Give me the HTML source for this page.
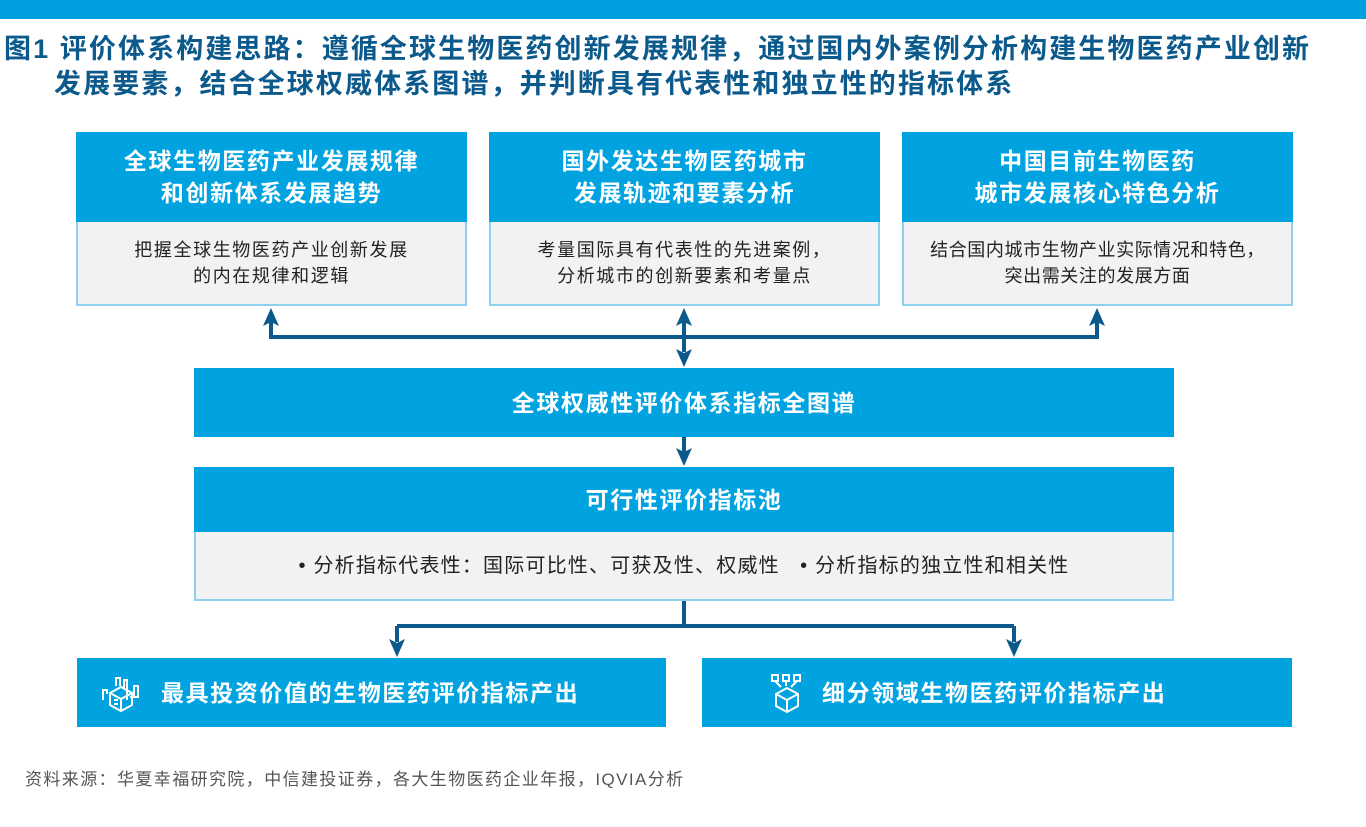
<!DOCTYPE html>
<html><head><meta charset="utf-8"><style>
*{margin:0;padding:0;box-sizing:border-box}
body{width:1366px;height:827px;background:#fff;position:relative;overflow:hidden;font-family:"Liberation Sans","Noto Sans CJK SC",sans-serif}
.bar{position:absolute;left:0;top:0;width:1366px;height:19px;background:#009fdf}
.title{position:absolute;left:4px;color:#0c5a8c;font-size:27px;font-weight:bold;white-space:nowrap;letter-spacing:2.1px}
.box{position:absolute;}
.hd{background:#00a3e0;color:#fff;font-weight:bold;font-size:23px;letter-spacing:1.6px;text-align:center;display:flex;align-items:center;justify-content:center;line-height:32px}
.bd{background:#f2f2f2;border:2px solid #8fd0ef;border-top:none;color:#222;font-size:18px;letter-spacing:1.6px;text-align:center;display:flex;align-items:center;justify-content:center;line-height:26px}
.src{position:absolute;left:25px;top:765px;font-size:17px;color:#555;letter-spacing:1.4px;white-space:nowrap}
</style></head><body>
<div class="bar"></div>
<div class="title" style="top:27px">图1 评价体系构建思路：遵循全球生物医药创新发展规律，通过国内外案例分析构建生物医药产业创新</div>
<div class="title" style="top:62px;left:54px">发展要素，结合全球权威体系图谱，并判断具有代表性和独立性的指标体系</div>

<div class="box" style="left:76px;top:132px;width:391px">
 <div class="hd" style="height:90px">全球生物医药产业发展规律<br>和创新体系发展趋势</div>
 <div class="bd" style="height:84px">把握全球生物医药产业创新发展<br>的内在规律和逻辑</div>
</div>
<div class="box" style="left:489px;top:132px;width:391px">
 <div class="hd" style="height:90px">国外发达生物医药城市<br>发展轨迹和要素分析</div>
 <div class="bd" style="height:84px">考量国际具有代表性的先进案例，<br>分析城市的创新要素和考量点</div>
</div>
<div class="box" style="left:902px;top:132px;width:391px">
 <div class="hd" style="height:90px">中国目前生物医药<br>城市发展核心特色分析</div>
 <div class="bd" style="height:84px;letter-spacing:0.6px">结合国内城市生物产业实际情况和特色，<br>突出需关注的发展方面</div>
</div>

<div class="box hd" style="left:194px;top:368px;width:980px;height:69px">全球权威性评价体系指标全图谱</div>
<div class="box" style="left:194px;top:467px;width:980px">
 <div class="hd" style="height:65px">可行性评价指标池</div>
 <div class="bd" style="height:69px;font-size:20px;letter-spacing:1.2px">• 分析指标代表性：国际可比性、可获及性、权威性&nbsp;&nbsp;&nbsp;• 分析指标的独立性和相关性</div>
</div>

<div class="box hd" style="left:77px;top:658px;width:589px;height:69px;justify-content:flex-start;padding-left:84px;font-size:23px">最具投资价值的生物医药评价指标产出</div>
<div class="box hd" style="left:702px;top:658px;width:590px;height:69px;justify-content:flex-start;padding-left:120px;font-size:23px">细分领域生物医药评价指标产出</div>

<svg width="1366" height="827" style="position:absolute;left:0;top:0">
 <g stroke="#0c5a8c" stroke-width="4" fill="none">
  <path d="M271 322 V337 H1097 V322"/>
  <path d="M684 322 V352"/>
  <path d="M684 437 V452"/>
  <path d="M684 601 V626 M397 626 H1014 M397 626 V642 M1014 626 V642"/>
 </g>
 <g fill="#0c5a8c">
  <path d="M271 308 L263 326 L271 322 L279 326Z"/>
  <path d="M684 308 L676 326 L684 322 L692 326Z"/>
  <path d="M1097 308 L1089 326 L1097 322 L1105 326Z"/>
  <path d="M684 367 L676 349 L684 353 L692 349Z"/>
  <path d="M684 466 L676 448 L684 452 L692 448Z"/>
  <path d="M397 657 L389 639 L397 643 L405 639Z"/>
  <path d="M1014 657 L1006 639 L1014 643 L1022 639Z"/>
 </g>
 <g stroke="#fff" stroke-width="2" fill="none">
  <path d="M110 693 L121 687 L132 693 L132 705 L121 711 L110 705Z M110 693 L121 699 L132 693 M121 699 V711"/>
  <path d="M114 700 h4 M114 704 h4"/>
  <path d="M103 700 V690 h4 v4 M116 686 V678 h4 v8 M124 688 V680 h3 v20 M130 697 h8 V686 h-4 v11"/>
  <path d="M772 675 h6 v6 h-6z M783 675 h6 v6 h-6z M794 675 h6 v6 h-6z"/>
  <path d="M775 681 l6 6 M786 681 v5 M797 681 l-6 6"/>
  <path d="M776 694 L787 688 L798 694 L798 706 L787 712 L776 706Z M776 694 L787 700 L798 694 M787 700 V712"/>
 </g>
</svg>
<div class="src">资料来源：华夏幸福研究院，中信建投证券，各大生物医药企业年报，IQVIA分析</div>
</body></html>
